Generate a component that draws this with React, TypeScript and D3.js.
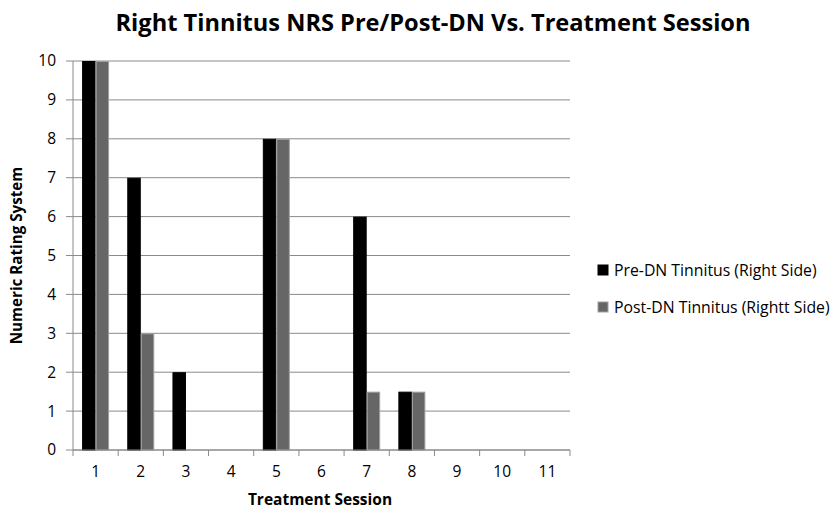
import * as d3 from 'd3';

const sessions = ['1', '2', '3', '4', '5', '6', '7', '8', '9', '10', '11'];
const preDN = [10, 7, 2, 0, 8, 0, 6, 1.5, 0, 0, 0];
const postDN = [10, 3, 0, 0, 8, 0, 1.5, 1.5, 0, 0, 0];
const yTicks = [0, 1, 2, 3, 4, 5, 6, 7, 8, 9, 10];
const seriesNames = ['Pre-DN Tinnitus (Right Side)', 'Post-DN Tinnitus (Rightt Side)'];

const W = 838;
const H = 514;
const FONT = '"Open Sans", "Noto Sans", sans-serif';

export default function App() {
  const left = 73;
  const right = 570;
  const top = 61;
  const bottom = 450;

  const x = d3.scaleBand().domain(sessions).range([left, right]).paddingInner(0).paddingOuter(0);
  const y = d3.scaleLinear().domain([0, 10]).range([bottom, top]);
  const bw = x.bandwidth();
  const barW = 13.5;
  const groupOffset = (bw - barW * 2) / 2;

  const series = [
    { values: preDN, fill: '#000000', stroke: '#000000' },
    { values: postDN, fill: '#666666', stroke: '#a0a0a0' },
  ];

  return (
    <svg width={W} height={H} style={{ position: 'absolute', left: 0, top: 0, background: '#fff' }}>
      <text x={433} y={31} textAnchor="middle" fontFamily={FONT} fontWeight="bold" fontSize={23.6} fill="#000">
        Right Tinnitus NRS Pre/Post-DN Vs. Treatment Session
      </text>

      {/* gridlines */}
      {yTicks.map((t) => (
        <g key={t}>
          <line x1={left - 7} x2={right} y1={y(t)} y2={y(t)} stroke="#8a8a8a" strokeWidth={1} />
          <text x={56} y={y(t)} dy="0.35em" textAnchor="end" fontFamily={FONT} fontSize={15.5} fill="#000">
            {t}
          </text>
        </g>
      ))}

      {/* y axis */}
      <line x1={left} x2={left} y1={top} y2={bottom} stroke="#8a8a8a" strokeWidth={1} />

      {/* bars */}
      {series.map((s, si) =>
        s.values.map((v, i) =>
          v > 0 ? (
            <rect
              key={`${si}-${i}`}
              x={(x(sessions[i]) as number) + groupOffset + si * barW + 0.5}
              y={y(v) + 0.5}
              width={barW - 1}
              height={bottom - y(v) - 0.5}
              fill={s.fill}
              stroke={s.stroke}
              strokeWidth={1}
            />
          ) : null
        )
      )}

      {/* x axis */}
      <line x1={left} x2={right} y1={bottom} y2={bottom} stroke="#8a8a8a" strokeWidth={1} />
      {sessions.concat(['end']).map((s, i) => {
        const xx = left + i * bw;
        return <line key={s} x1={xx} x2={xx} y1={bottom} y2={bottom + 6} stroke="#8a8a8a" strokeWidth={1} />;
      })}
      {sessions.map((s) => (
        <text
          key={s}
          x={(x(s) as number) + bw / 2}
          y={477}
          textAnchor="middle"
          fontFamily={FONT}
          fontSize={15.5}
          fill="#000"
        >
          {s}
        </text>
      ))}

      <text x={320} y={505} textAnchor="middle" fontFamily={FONT} fontWeight="bold" fontSize={15.5} fill="#000">
        Treatment Session
      </text>
      <text
        transform={`translate(22, ${(top + bottom) / 2}) rotate(-90)`}
        textAnchor="middle"
        fontFamily={FONT}
        fontWeight="bold"
        fontSize={15.2}
        fill="#000"
      >
        Numeric Rating System
      </text>

      {/* legend */}
      {seriesNames.map((n, i) => (
        <g key={n} transform={`translate(598, ${270 + i * 37})`}>
          <rect x={0} y={-5} width={10} height={10} fill={series[i].fill} stroke={series[i].stroke} />
          <text x={16} y={0} dy="0.35em" fontFamily={FONT} fontSize={15.8} fill="#000">
            {n}
          </text>
        </g>
      ))}
    </svg>
  );
}
